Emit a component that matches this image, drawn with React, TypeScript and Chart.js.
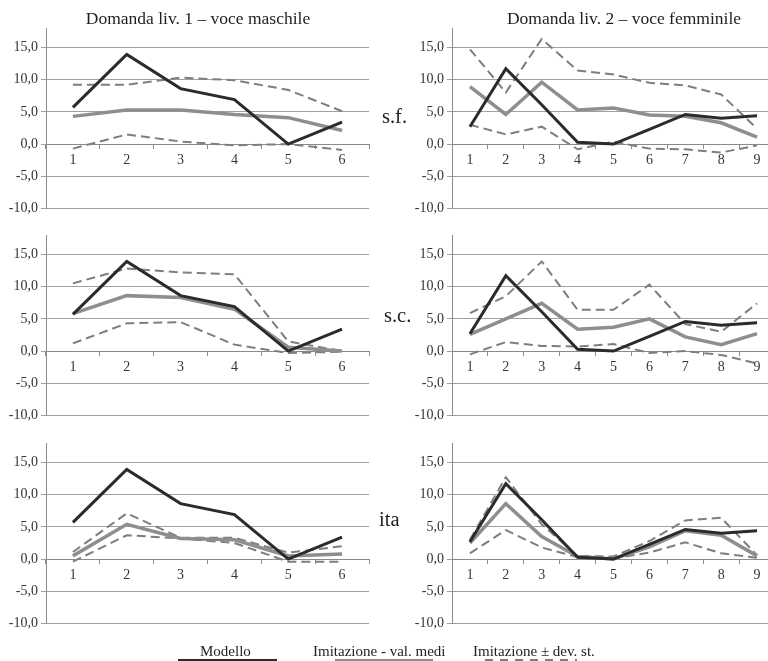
import React, { useEffect, useRef } from "react";
import { Chart, registerables } from "chart.js";

Chart.register(...registerables);

// ---------- data ----------
const xLabels6 = ["1", "2", "3", "4", "5", "6"];
const xLabels9 = ["1", "2", "3", "4", "5", "6", "7", "8", "9"];
const yTickValues = [-10, -5, 0, 5, 10, 15];

const columnTitles = ["Domanda liv. 1 – voce maschile", "Domanda liv. 2 – voce femminile"];
const rowLabels = ["s.f.", "s.c.", "ita"];
const legendLabels = ["Modello", "Imitazione - val. medi", "Imitazione ±  dev. st."];

// Domanda liv. 1 – voce maschile
const modello1 = [5.7, 13.9, 8.6, 6.9, 0.0, 3.4];
const sfMedi1 = [4.3, 5.3, 5.3, 4.6, 4.1, 2.1];
const sfUp1 = [9.2, 9.2, 10.3, 9.9, 8.4, 5.1];
const sfLow1 = [-0.7, 1.5, 0.4, -0.2, 0.0, -0.9];
const scMedi1 = [5.8, 8.6, 8.3, 6.5, 0.6, 0.0];
const scUp1 = [10.5, 12.8, 12.2, 11.9, 1.5, 0.0];
const scLow1 = [1.2, 4.3, 4.5, 1.0, -0.3, -0.1];
const itaMedi1 = [0.5, 5.4, 3.2, 3.0, 0.5, 0.8];
const itaUp1 = [1.1, 7.1, 3.3, 3.3, 1.0, 2.0];
const itaLow1 = [-0.4, 3.7, 3.2, 2.5, -0.4, -0.4];

// Domanda liv. 2 – voce femminile
const modello2 = [2.7, 11.7, 6.1, 0.3, 0.0, 2.3, 4.6, 4.0, 4.4];
const sfMedi2 = [8.9, 4.6, 9.6, 5.3, 5.6, 4.5, 4.3, 3.3, 1.1];
const sfUp2 = [14.7, 8.0, 16.3, 11.4, 10.8, 9.5, 9.1, 7.7, 2.4];
const sfLow2 = [3.0, 1.5, 2.7, -0.8, 0.4, -0.7, -0.8, -1.3, -0.2];
const scMedi2 = [2.6, 5.0, 7.4, 3.4, 3.7, 5.0, 2.2, 1.0, 2.7];
const scUp2 = [5.9, 8.5, 13.9, 6.4, 6.4, 10.3, 4.2, 3.0, 7.4];
const scLow2 = [-0.5, 1.4, 0.8, 0.7, 1.1, -0.3, 0.0, -0.6, -1.9];
const itaMedi2 = [2.5, 8.6, 3.5, 0.4, 0.0, 1.9, 4.4, 3.7, 0.5];
const itaUp2 = [3.0, 12.7, 5.4, 0.5, 0.4, 2.8, 6.0, 6.4, 0.6];
const itaLow2 = [0.9, 4.5, 1.8, 0.3, 0.1, 1.0, 2.6, 0.9, 0.2];

// ---------- styles ----------
const SERIF = '"Liberation Serif", "Times New Roman", serif';
const C_MODELLO = "#2b2b2b";
const C_MEDI = "#8e8e8e";
const C_DEV = "#7e7e7e";
const C_GRID = "#a0a0a0";
const C_AXIS = "#8a8a8a";
const C_TICK = "#33343c";

type PanelProps = {
  labels: string[];
  modello: number[];
  medi: number[];
  up: number[];
  low: number[];
  left: number;
  top: number;
  width: number;
  height: number;
  axisWidth: number;
  padRight: number;
};

function Panel(p: PanelProps) {
  const ref = useRef<HTMLCanvasElement | null>(null);
  useEffect(() => {
    if (!ref.current) return;
    const tickFont = { family: SERIF, size: 14 };
    const chart = new Chart(ref.current, {
      type: "line",
      data: {
        labels: p.labels,
        datasets: [
          { label: legendLabels[0], data: p.modello, borderColor: C_MODELLO, borderWidth: 3, pointRadius: 0, tension: 0 },
          { label: legendLabels[1], data: p.medi, borderColor: C_MEDI, borderWidth: 3.5, pointRadius: 0, tension: 0 },
          { label: legendLabels[2], data: p.up, borderColor: C_DEV, borderWidth: 2, borderDash: [9, 5], pointRadius: 0, tension: 0 },
          { label: legendLabels[2], data: p.low, borderColor: C_DEV, borderWidth: 2, borderDash: [9, 5], pointRadius: 0, tension: 0 },
        ],
      },
      options: {
        animation: false,
        responsive: false,
        maintainAspectRatio: false,
        layout: { padding: { left: 0, right: p.padRight, top: 28, bottom: 10 } },
        plugins: { legend: { display: false }, tooltip: { enabled: false }, title: { display: false } },
        scales: {
          x: {
            type: "category",
            position: { y: 0 } as any,
            offset: true,
            grid: { drawOnChartArea: false, drawTicks: true, tickLength: 4, color: C_AXIS, offset: true },
            border: { display: true, color: C_AXIS, width: 1 },
            ticks: { font: tickFont, color: C_TICK, padding: 4, maxRotation: 0, autoSkip: false },
          },
          y: {
            type: "linear",
            min: -10,
            max: 18,
            afterFit: (s: any) => {
              s.width = p.axisWidth;
            },
            afterBuildTicks: (s: any) => {
              s.ticks = yTickValues.map((v) => ({ value: v }));
            },
            grid: { color: C_GRID, drawTicks: true, tickLength: 5 },
            border: { display: true, color: C_AXIS, width: 1 },
            ticks: {
              font: tickFont,
              color: C_TICK,
              padding: 3,
              callback: (v: any) => Number(v).toFixed(1).replace(".", ","),
            },
          },
        },
      },
    } as any);
    return () => chart.destroy();
  }, []);
  return (
    <canvas
      ref={ref}
      width={p.width}
      height={p.height}
      style={{ position: "absolute", left: p.left, top: p.top, width: p.width, height: p.height }}
    />
  );
}

const rowTops = [0, 207, 415];

export default function App() {
  const leftData = [
    [sfMedi1, sfUp1, sfLow1],
    [scMedi1, scUp1, scLow1],
    [itaMedi1, itaUp1, itaLow1],
  ];
  const rightData = [
    [sfMedi2, sfUp2, sfLow2],
    [scMedi2, scUp2, scLow2],
    [itaMedi2, itaUp2, itaLow2],
  ];
  const rowLabelPos = [
    { left: 382, top: 106 },
    { left: 384, top: 305 },
    { left: 379, top: 509 },
  ];
  const textBase: React.CSSProperties = {
    position: "absolute",
    fontFamily: SERIF,
    color: "#1e1e1e",
    whiteSpace: "nowrap",
  };
  return (
    <div
      style={{
        position: "absolute",
        left: 0,
        top: 0,
        width: 768,
        height: 661,
        overflow: "hidden",
        background: "#ffffff",
      }}
    >
      {rowTops.map((t, i) => (
        <Panel
          key={"l" + i}
          labels={xLabels6}
          modello={modello1}
          medi={leftData[i][0]}
          up={leftData[i][1]}
          low={leftData[i][2]}
          left={0}
          top={t}
          width={384}
          height={220}
          axisWidth={46}
          padRight={15}
        />
      ))}
      {rowTops.map((t, i) => (
        <Panel
          key={"r" + i}
          labels={xLabels9}
          modello={modello2}
          medi={rightData[i][0]}
          up={rightData[i][1]}
          low={rightData[i][2]}
          left={384}
          top={t}
          width={400}
          height={220}
          axisWidth={68}
          padRight={9}
        />
      ))}
      <div style={{ ...textBase, left: 198, top: 10, fontSize: 17.5, lineHeight: "17px", transform: "translateX(-50%)" }}>
        {columnTitles[0]}
      </div>
      <div style={{ ...textBase, left: 624, top: 10, fontSize: 17.5, lineHeight: "17px", transform: "translateX(-50%)" }}>
        {columnTitles[1]}
      </div>
      {rowLabels.map((r, i) => (
        <div key={r} style={{ ...textBase, left: rowLabelPos[i].left, top: rowLabelPos[i].top, fontSize: 20.5, lineHeight: "20px" }}>
          {r}
        </div>
      ))}
      {/* legend */}
      <div style={{ ...textBase, left: 200, top: 644, fontSize: 15, lineHeight: "15px" }}>{legendLabels[0]}</div>
      <div style={{ ...textBase, left: 313, top: 644, fontSize: 15, lineHeight: "15px" }}>{legendLabels[1]}</div>
      <div style={{ ...textBase, left: 473, top: 644, fontSize: 15, lineHeight: "15px" }}>{legendLabels[2]}</div>
      <div style={{ position: "absolute", left: 178, top: 659, width: 99, height: 3, background: C_MODELLO }} />
      <div style={{ position: "absolute", left: 335, top: 659, width: 98, height: 3, background: C_MEDI }} />
      <div
        style={{
          position: "absolute",
          left: 485,
          top: 659,
          width: 92,
          height: 2,
          background: `repeating-linear-gradient(to right, ${C_DEV} 0px, ${C_DEV} 8px, transparent 8px, transparent 15px)`,
        }}
      />
    </div>
  );
}
